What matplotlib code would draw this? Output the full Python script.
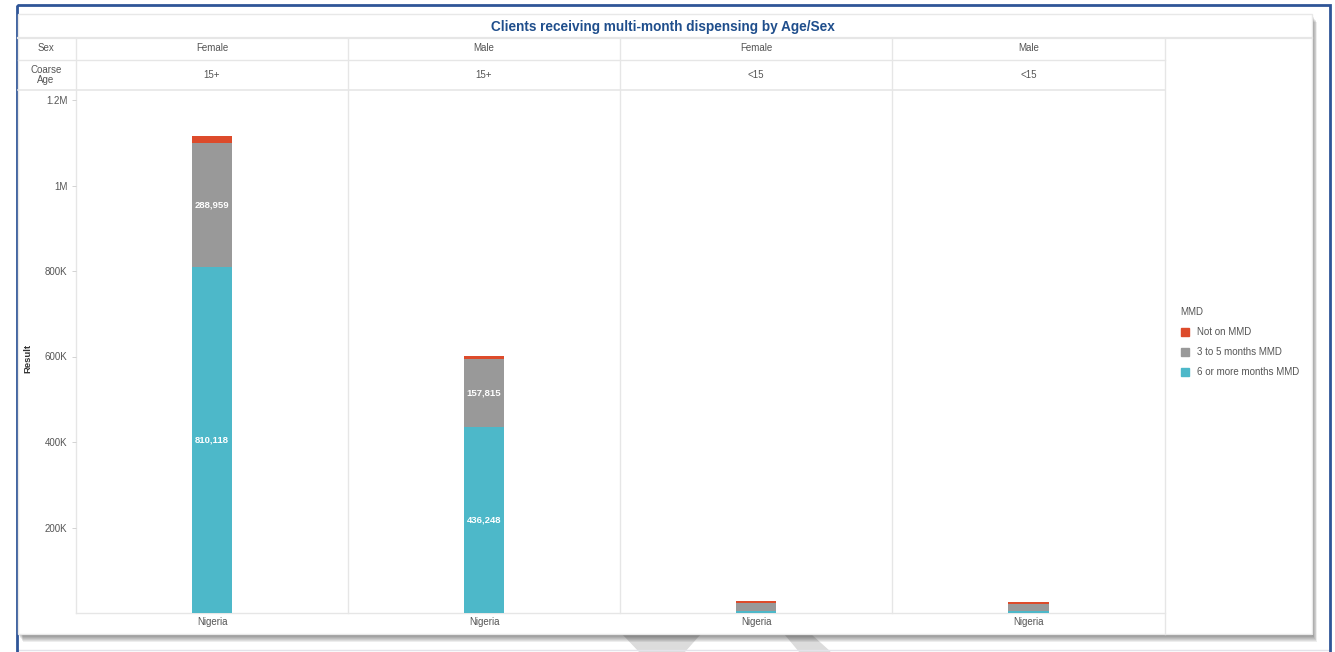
import numpy as np
import matplotlib.pyplot as plt
from matplotlib.patches import Rectangle, Polygon

plt.rcParams['font.family'] = ['Liberation Sans', 'DejaVu Sans']

# panels and their stacked values
sex = ["Female", "Male", "Female", "Male"]
coarse_age = ["15+", "15+", "<15", "<15"]
country = ["Nigeria", "Nigeria", "Nigeria", "Nigeria"]
six_plus = [810118, 436248, 5000, 4000]
three_to_five = [288959, 157815, 19000, 18000]
not_on_mmd = [17000, 8000, 3000, 3000]
show_labels = [True, True, False, False]

y_ticks = [200000, 400000, 600000, 800000, 1000000, 1200000]
y_tick_labels = ["200K", "400K", "600K", "800K", "1M", "1.2M"]

series = ["Not on MMD", "3 to 5 months MMD", "6 or more months MMD"]
colors = {"Not on MMD": "#dd4b2b",
          "3 to 5 months MMD": "#999999",
          "6 or more months MMD": "#4db8c9"}

W, H = 1335, 652
fig = plt.figure(figsize=(W / 100, H / 100), dpi=100)

# pixel-space overlay for the card, header grid and legend
bg = fig.add_axes([0, 0, 1, 1])
bg.set_xlim(0, W)
bg.set_ylim(H, 0)
bg.axis("off")

# faint watermark strokes peeking out below the card
bg.add_patch(Polygon([[623, 634], [700, 634], [684, 652], [640, 652]],
                     closed=True, color="#dcdcdc", zorder=0))
bg.add_patch(Polygon([[785, 634], [810, 634], [830, 652], [800, 652]],
                     closed=True, color="#dcdcdc", zorder=0))

# outer frame and card with drop shadow
bg.plot([17, 1330], [650, 650], color="#e3e3ea", lw=1, zorder=1)
bg.add_patch(Rectangle((17, 5), 1313, 660, fill=False, ec="#2f5597", lw=2, zorder=1))
for i in range(8):
    off = 8 - i
    bg.add_patch(Rectangle((18 + off * 0.6, 14 + off), 1294, 620, color="black",
                           alpha=0.07, lw=0, zorder=1))
bg.add_patch(Rectangle((18, 14), 1294, 620, fc="white", ec="#e8e8e8", lw=1, zorder=2))

grid_c = "#e6e6e6"
panel_x = [76, 348, 620, 892, 1165]
bg.plot([18, 1312], [38, 38], color=grid_c, lw=1.6, zorder=3)
bg.plot([18, 1165], [60, 60], color=grid_c, lw=1.0, zorder=3)
bg.plot([18, 1165], [90, 90], color=grid_c, lw=1.2, zorder=3)
bg.plot([76, 1165], [613, 613], color=grid_c, lw=1.0, zorder=3)
for x in panel_x:
    bg.plot([x, x], [38, 613 if x != 1165 else 634], color=grid_c, lw=1.0, zorder=3)

bg.text(663, 27, "Clients receiving multi-month dispensing by Age/Sex",
        ha="center", va="center", fontsize=9.8, fontweight="bold",
        color="#1f4e8c", zorder=4)
txt_c = "#555555"
fs = 7
bg.text(46, 48, "Sex", ha="center", va="center", fontsize=fs, color=txt_c, zorder=4)
bg.text(46, 75, "Coarse\nAge", ha="center", va="center", fontsize=fs,
        color=txt_c, linespacing=1.0, zorder=4)
for i in range(4):
    cx = (panel_x[i] + panel_x[i + 1]) / 2
    bg.text(cx, 48, sex[i], ha="center", va="center", fontsize=fs, color=txt_c, zorder=4)
    bg.text(cx, 75, coarse_age[i], ha="center", va="center", fontsize=fs,
            color=txt_c, zorder=4)
    bg.text(cx, 622, country[i], ha="center", va="center", fontsize=fs,
            color=txt_c, zorder=4)

bg.text(28, 358, "Result", rotation=90, ha="center", va="center",
        fontsize=6.8, fontweight="bold", color="#333333", zorder=4)

# legend
bg.text(1180, 312, "MMD", ha="left", va="center", fontsize=fs, color=txt_c, zorder=4)
for j, name in enumerate(series):
    yy = 332 + 20 * j
    bg.add_patch(Rectangle((1181, yy - 4), 8, 8, color=colors[name], zorder=4))
    bg.text(1197, yy, name, ha="left", va="center", fontsize=fs, color=txt_c, zorder=4)

# bar panels
y_top = 1200000 + 10 * 200000 / 85.5
for i in range(4):
    x0, x1 = panel_x[i], panel_x[i + 1]
    ax = fig.add_axes([x0 / W, (H - 613) / H, (x1 - x0) / W, (613 - 90) / H])
    ax.patch.set_alpha(0)
    ax.set_xlim(-0.5, 0.5)
    ax.set_ylim(0, y_top)
    for s in ax.spines.values():
        s.set_visible(False)
    ax.set_xticks([])
    ax.bar(0, six_plus[i], width=0.148, color=colors["6 or more months MMD"])
    ax.bar(0, three_to_five[i], bottom=six_plus[i], width=0.148,
           color=colors["3 to 5 months MMD"])
    ax.bar(0, not_on_mmd[i], bottom=six_plus[i] + three_to_five[i], width=0.148,
           color=colors["Not on MMD"])
    if show_labels[i]:
        ax.text(0, six_plus[i] / 2, f"{six_plus[i]:,}", ha="center", va="center",
                color="white", fontsize=6.8, fontweight="bold")
        ax.text(0, six_plus[i] + three_to_five[i] / 2, f"{three_to_five[i]:,}",
                ha="center", va="center", color="white", fontsize=6.8,
                fontweight="bold")
    if i == 0:
        ax.set_yticks(y_ticks)
        ax.set_yticklabels(y_tick_labels)
        ax.tick_params(axis="y", length=3, width=0.6, color="#cccccc",
                       labelsize=fs, labelcolor=txt_c, pad=3)
    else:
        ax.set_yticks([])

fig.savefig("out.png", dpi=100)
